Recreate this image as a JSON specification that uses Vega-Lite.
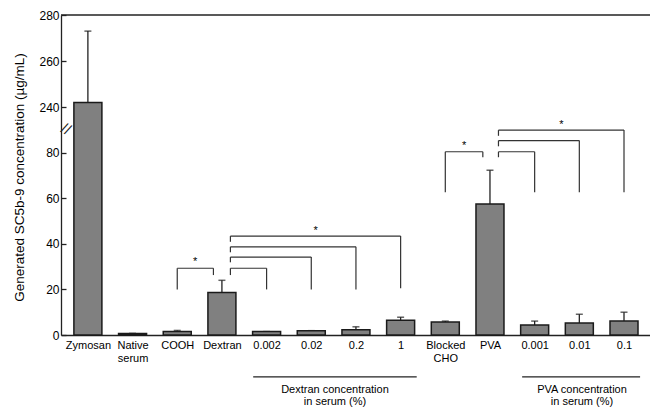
{
  "$schema": "https://vega.github.io/schema/vega-lite/v6.json",
  "width": 589,
  "height": 320,
  "autosize": {"type": "none"},
  "padding": {"left": 61, "top": 15, "right": 0, "bottom": 74},
  "config": {"view": {"stroke": null}, "font": "Liberation Sans", "axis": {"grid": false}},
  "resolve": {"axis": {"x": "independent", "y": "independent"}},
  "datasets": {
    "bars": [
      {"idx": 0, "name": "Zymosan", "mean": 242, "upper": 273},
      {"idx": 1, "name": "Native serum", "mean": 0.7, "upper": 0.7},
      {"idx": 2, "name": "COOH", "mean": 1.5, "upper": 2.0},
      {"idx": 3, "name": "Dextran", "mean": 18.6, "upper": 24.0},
      {"idx": 4, "name": "0.002", "mean": 1.5, "upper": 1.5},
      {"idx": 5, "name": "0.02", "mean": 1.9, "upper": 1.9},
      {"idx": 6, "name": "0.2", "mean": 2.3, "upper": 3.6},
      {"idx": 7, "name": "1", "mean": 6.5, "upper": 7.8},
      {"idx": 8, "name": "Blocked CHO", "mean": 5.7, "upper": 6.1},
      {"idx": 9, "name": "PVA", "mean": 57.5, "upper": 72.3},
      {"idx": 10, "name": "0.001", "mean": 4.4, "upper": 6.1},
      {"idx": 11, "name": "0.01", "mean": 5.3, "upper": 9.1},
      {"idx": 12, "name": "0.1", "mean": 6.1, "upper": 10.0}
    ],
    "brackets": [
      {"x1": 2, "x2": 2, "y1": 20, "y2": 29.3},
      {"x1": 2, "x2": 2.81, "y1": 29.3, "y2": 29.3},
      {"x1": 2.81, "x2": 2.81, "y1": 29.3, "y2": 26.3},
      {"x1": 3.19, "x2": 4, "y1": 29.3, "y2": 29.3},
      {"x1": 3.19, "x2": 3.19, "y1": 29.3, "y2": 26.3},
      {"x1": 4, "x2": 4, "y1": 29.3, "y2": 20},
      {"x1": 3.19, "x2": 5, "y1": 34.2, "y2": 34.2},
      {"x1": 3.19, "x2": 3.19, "y1": 34.2, "y2": 31.9},
      {"x1": 5, "x2": 5, "y1": 34.2, "y2": 20},
      {"x1": 3.19, "x2": 6, "y1": 38.7, "y2": 38.7},
      {"x1": 3.19, "x2": 3.19, "y1": 38.7, "y2": 36.3},
      {"x1": 6, "x2": 6, "y1": 38.7, "y2": 20},
      {"x1": 3.19, "x2": 7, "y1": 43.4, "y2": 43.4},
      {"x1": 3.19, "x2": 3.19, "y1": 43.4, "y2": 40.9},
      {"x1": 7, "x2": 7, "y1": 43.4, "y2": 20.5},
      {"x1": 8, "x2": 8, "y1": 62.6, "y2": 80.4},
      {"x1": 8, "x2": 8.84, "y1": 80.4, "y2": 80.4},
      {"x1": 8.84, "x2": 8.84, "y1": 80.4, "y2": 78.0},
      {"x1": 9.19, "x2": 10, "y1": 80.4, "y2": 80.4},
      {"x1": 9.19, "x2": 9.19, "y1": 80.4, "y2": 78.0},
      {"x1": 10, "x2": 10, "y1": 80.4, "y2": 62.6},
      {"x1": 9.19, "x2": 11, "y1": 85.3, "y2": 85.3},
      {"x1": 9.19, "x2": 9.19, "y1": 85.3, "y2": 82.8},
      {"x1": 11, "x2": 11, "y1": 85.3, "y2": 62.6},
      {"x1": 9.19, "x2": 12, "y1": 89.9, "y2": 89.9},
      {"x1": 9.19, "x2": 9.19, "y1": 89.9, "y2": 87.4},
      {"x1": 12, "x2": 12, "y1": 89.9, "y2": 62.6}
    ],
    "stars": [
      {"x": 2.4, "y": 30.5, "t": "*"},
      {"x": 5.1, "y": 44.5, "t": "*"},
      {"x": 8.42, "y": 81.6, "t": "*"},
      {"x": 10.6, "y": 91.0, "t": "*"}
    ],
    "grouplines": [
      {"x1": 3.70, "x2": 7.36, "y": -18.4},
      {"x1": 9.72, "x2": 12.36, "y": -18.4}
    ],
    "grouplabels": [
      {"x": 5.53, "y": -24.0, "t": "Dextran concentration"},
      {"x": 5.53, "y": -29.4, "t": "in serum (%)"},
      {"x": 11.06, "y": -24.0, "t": "PVA concentration"},
      {"x": 11.06, "y": -29.4, "t": "in serum (%)"}
    ]
  },
  "layer": [
    {
      "data": {"name": "bars"},
      "mark": {"type": "rule", "color": "#222", "strokeWidth": 1.3},
      "encoding": {
        "x": {
          "field": "idx", "type": "quantitative",
          "scale": {"domain": [-0.49, 12.47], "nice": false, "zero": false},
          "axis": {
            "title": null, "values": [0,1,2,3,4,5,6,7,8,9,10,11,12],
            "labelExpr": "['Zymosan',['Native','serum'],'COOH','Dextran','0.002','0.02','0.2','1',['Blocked','CHO'],'PVA','0.001','0.01','0.1'][datum.value]",
            "ticks": false, "domainColor": "#222", "domainWidth": 1.3,
            "labelFontSize": 11, "labelColor": "#000", "labelPadding": 4,
            "labelLineHeight": 13, "labelFlush": false, "labelOverlap": false, "labelBound": false
          }
        },
        "y": {
          "field": "mean", "type": "quantitative",
          "scale": {"domain": [0, 100, 240, 280], "range": [320, 92.1, 92.1, 0], "nice": false, "zero": false},
          "axis": {
            "title": "Generated SC5b-9 concentration (µg/mL)",
            "values": [0, 20, 40, 60, 80, 240, 260, 280],
            "tickSize": -5, "tickColor": "#222", "tickWidth": 1.3,
            "domainColor": "#222", "domainWidth": 1.3,
            "labelFontSize": 12, "labelColor": "#000", "labelPadding": 7,
            "titleFontSize": 13.5, "titleFontWeight": "normal", "titleColor": "#000",
            "titleX": -42, "titleY": 162, "titleAngle": -90, "titleAlign": "center", "titleBaseline": "middle"
          }
        },
        "y2": {"field": "upper"}
      }
    },
    {
      "data": {"name": "bars"},
      "mark": {"type": "tick", "orient": "horizontal", "color": "#222", "size": 7, "thickness": 1.5},
      "encoding": {
        "x": {"field": "idx", "type": "quantitative", "axis": null},
        "y": {"field": "upper", "type": "quantitative", "axis": null}
      }
    },
    {
      "data": {"name": "bars"},
      "mark": {"type": "bar", "orient": "vertical", "size": 28, "fill": "#808080", "stroke": "#1a1a1a", "strokeWidth": 1.5},
      "encoding": {
        "x": {"field": "idx", "type": "quantitative", "axis": null},
        "y": {"field": "mean", "type": "quantitative", "axis": null, "stack": null}
      }
    },
    {
      "data": {"name": "brackets"},
      "mark": {"type": "rule", "color": "#333", "strokeWidth": 1.2},
      "encoding": {
        "x": {"field": "x1", "type": "quantitative", "axis": null},
        "x2": {"field": "x2"},
        "y": {"field": "y1", "type": "quantitative", "axis": null},
        "y2": {"field": "y2"}
      }
    },
    {
      "data": {"name": "stars"},
      "mark": {"type": "text", "fontSize": 11, "color": "#000", "align": "center", "baseline": "alphabetic"},
      "encoding": {
        "x": {"field": "x", "type": "quantitative", "axis": null},
        "y": {"field": "y", "type": "quantitative", "axis": null},
        "text": {"field": "t"}
      }
    },
    {
      "data": {"values": [{}]},
      "mark": {"type": "rule", "color": "#222", "strokeWidth": 1.3},
      "encoding": {"y": {"datum": 280, "type": "quantitative", "axis": null}}
    },
    {
      "data": {"values": [{}]},
      "mark": {"type": "text", "text": "//", "fontSize": 15, "color": "#222", "align": "center", "baseline": "middle", "angle": 27},
      "encoding": {
        "x": {"datum": -0.49, "type": "quantitative", "axis": null},
        "y": {"datum": 90.4, "type": "quantitative", "axis": null}
      }
    },
    {
      "data": {"name": "grouplines"},
      "mark": {"type": "rule", "color": "#222", "strokeWidth": 1.2},
      "encoding": {
        "x": {"field": "x1", "type": "quantitative", "axis": null},
        "x2": {"field": "x2"},
        "y": {"field": "y", "type": "quantitative", "axis": null}
      }
    },
    {
      "data": {"name": "grouplabels"},
      "mark": {"type": "text", "fontSize": 11, "color": "#000", "align": "center", "baseline": "middle"},
      "encoding": {
        "x": {"field": "x", "type": "quantitative", "axis": null},
        "y": {"field": "y", "type": "quantitative", "axis": null},
        "text": {"field": "t"}
      }
    }
  ]
}
